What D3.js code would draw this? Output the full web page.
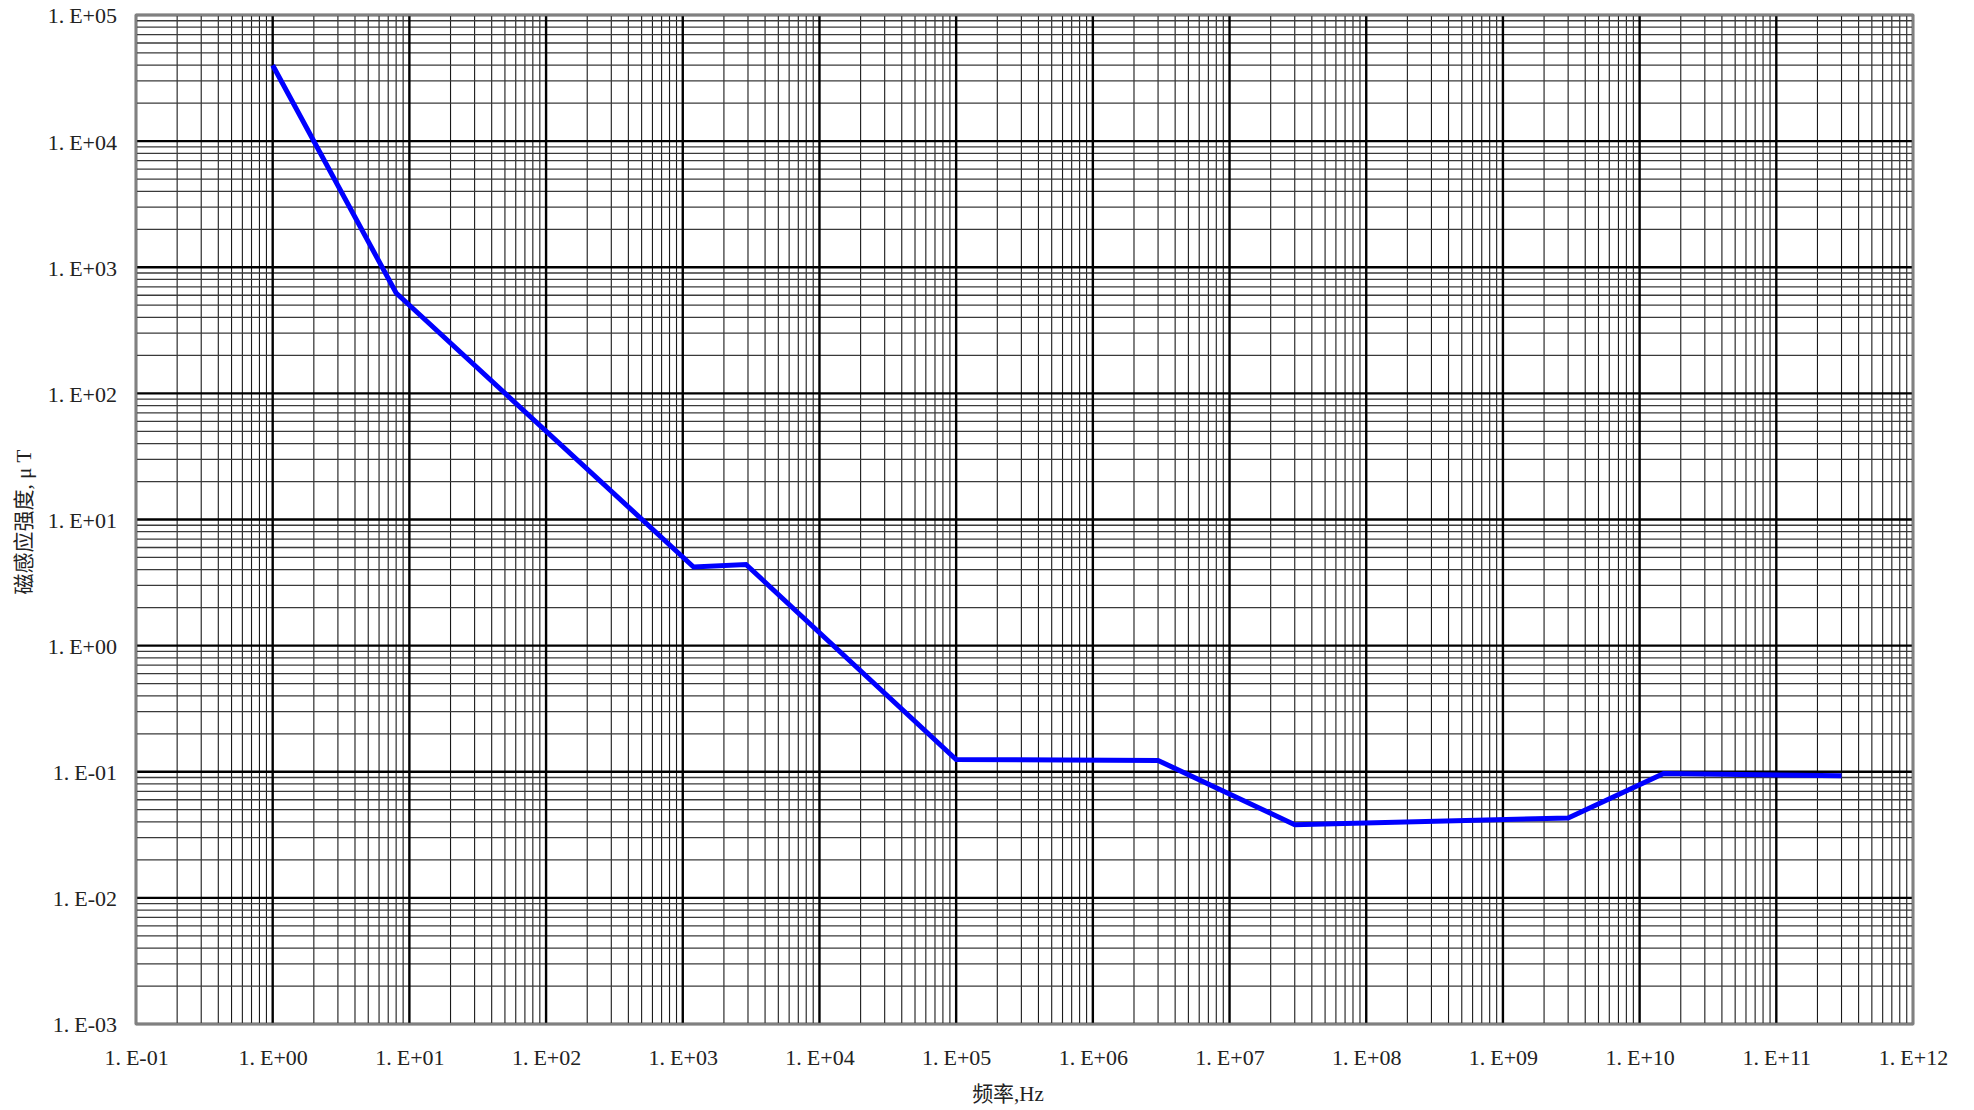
<!DOCTYPE html>
<head>
    <meta charset="utf-8">
    <script src="https://cdnjs.cloudflare.com/ajax/libs/d3/7.9.0/d3.js"></script>
    <style>
        body { margin: 0; background: #fff; }
        text { font-family: "Liberation Serif", "Noto Sans CJK SC", serif; fill: #222; }
    </style>
</head>

<body>
    <div id="chart"></div>
</body>

<script>

// values: frequency (Hz) and flux density (uT) at each corner of the limit curve

const freqs = [1, 8, 1.2e3, 2.9e3, 1e5, 3e6, 3e7, 3e9, 1.5e10, 3e11]
const fluxB = [4e4, 625, 4.2, 4.4, 0.125, 0.123, 0.038, 0.043, 0.097, 0.093]

// decade ticks

const xTicks = d3.range(-1, 13).map(e => Math.pow(10, e))
const yTicks = d3.range(-3, 6).map(e => Math.pow(10, e))

const xTitle = "频率,Hz"
const yTitle = "磁感应强度, μ T"

// dimensions

const W = 1974, H = 1110
const margin = {top: 15, right: 61, bottom: 86, left: 136}
const width = W - margin.left - margin.right
const height = H - margin.top - margin.bottom

const svg = d3.select("#chart")
    .append("svg")
    .attr("width", W)
    .attr("height", H)

const g = svg.append("g")
    .attr("transform", `translate(${margin.left},${margin.top})`)

const x = d3.scaleLog()
    .domain([1e-1, 1e12])
    .range([0, width])

const y = d3.scaleLog()
    .domain([1e-3, 1e5])
    .range([height, 0])

// minor grid (2..9 within each decade)

const minor = ticks => ticks.slice(0, -1).flatMap(t => d3.range(2, 10).map(k => k * t))

g.append("g").selectAll("line")
    .data(minor(xTicks))
    .join("line")
    .attr("x1", d => x(d)).attr("x2", d => x(d))
    .attr("y1", 0).attr("y2", height)
    .attr("stroke", "#1a1a1a")
    .attr("stroke-width", 1.1)

g.append("g").selectAll("line")
    .data(minor(yTicks))
    .join("line")
    .attr("y1", d => y(d)).attr("y2", d => y(d))
    .attr("x1", 0).attr("x2", width)
    .attr("stroke", "#3a3a3a")
    .attr("stroke-width", 1.3)

// major grid

g.append("g").selectAll("line")
    .data(xTicks)
    .join("line")
    .attr("x1", d => x(d)).attr("x2", d => x(d))
    .attr("y1", 0).attr("y2", height)
    .attr("stroke", "#000")
    .attr("stroke-width", 2.4)

g.append("g").selectAll("line")
    .data(yTicks)
    .join("line")
    .attr("y1", d => y(d)).attr("y2", d => y(d))
    .attr("x1", 0).attr("x2", width)
    .attr("stroke", "#000")
    .attr("stroke-width", 2.4)

// frame

g.append("rect")
    .attr("width", width)
    .attr("height", height)
    .attr("fill", "none")
    .attr("stroke", "#808080")
    .attr("stroke-width", 2.5)

// axes (labels only, the grid draws the lines)

const fmt = d => {
    const e = Math.round(Math.log10(d))
    return "1.E" + (e < 0 ? "-" : "+") + String(Math.abs(e)).padStart(2, "0")
}

// put a little gap after "1." like the original font does
const spaceLabels = sel => sel.selectAll(".tick text").each(function() {
    const t = d3.select(this), s = t.text()
    t.text(null)
    t.append("tspan").text(s.slice(0, 2))
    t.append("tspan").attr("dx", 5).text(s.slice(2))
})

const xAxis = g.append("g")
    .attr("transform", `translate(0,${height})`)
    .call(d3.axisBottom(x).tickValues(xTicks).tickFormat(fmt).tickSize(0).tickPadding(25))
xAxis.select(".domain").remove()
xAxis.selectAll("text").attr("font-size", 22).attr("font-family", null)
spaceLabels(xAxis)

const yAxis = g.append("g")
    .call(d3.axisLeft(y).tickValues(yTicks).tickFormat(fmt).tickSize(0).tickPadding(19))
yAxis.select(".domain").remove()
yAxis.selectAll("text").attr("font-size", 22).attr("font-family", null).attr("dy", "0.36em")
spaceLabels(yAxis)

// the limit curve

const line = d3.line()
    .x(d => x(d[0]))
    .y(d => y(d[1]))

g.append("path")
    .datum(d3.zip(freqs, fluxB))
    .attr("fill", "none")
    .attr("stroke", "#0000ff")
    .attr("stroke-width", 5)
    .attr("stroke-linejoin", "miter")
    .attr("d", line)

// axis titles

svg.append("text")
    .attr("x", 1008)
    .attr("y", 1101)
    .attr("text-anchor", "middle")
    .attr("font-size", 21)
    .text(xTitle)

svg.append("text")
    .attr("transform", `translate(31,522) rotate(-90)`)
    .attr("text-anchor", "middle")
    .attr("font-size", 21)
    .text(yTitle)

</script>
